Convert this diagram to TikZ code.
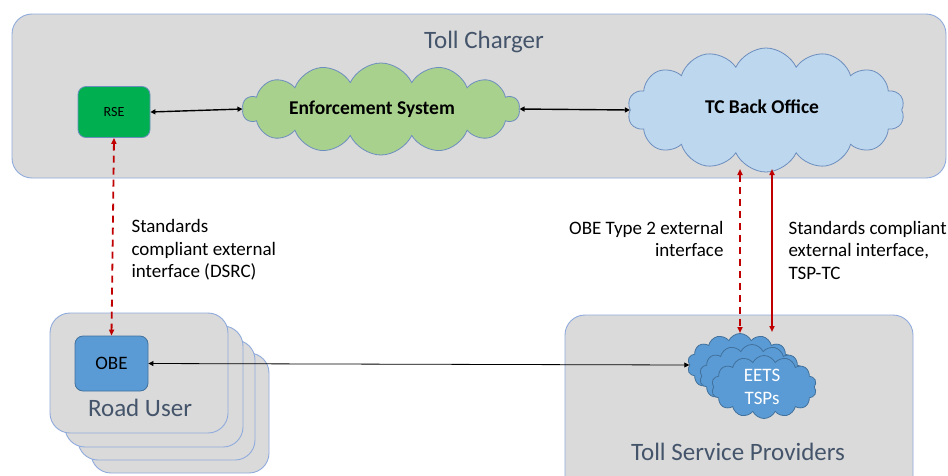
\documentclass[tikz,border=0pt]{standalone}
\usepackage{fontspec}
\setmainfont{Carlito}
\usetikzlibrary{shapes.symbols,arrows.meta,calc}
\definecolor{panel}{HTML}{DADADA}
\definecolor{panelborder}{HTML}{8FAADC}
\definecolor{titlecol}{HTML}{44546A}
\definecolor{rsegreen}{HTML}{00B050}
\definecolor{enfgreen}{HTML}{A9D18E}
\definecolor{tcblue}{HTML}{BDD7EE}
\definecolor{obeblue}{HTML}{5B9BD5}
\definecolor{cloudborder}{HTML}{41719C}
\definecolor{boxborder}{HTML}{6C8EBF}
\definecolor{arrowred}{HTML}{C00000}
\tikzset{
  panelbox/.style={draw=panelborder, fill=panel, line width=0.9pt, rounded corners=20pt},
  paneltitle/.style={text=titlecol, font=\fontsize{25}{28}\selectfont},
  cloudnode/.style={shape=cloud, cloud puffs=14, cloud puff arc=130, cloud ignores aspect, inner sep=0pt, line width=0.8pt, draw=boxborder},
  bigcloudtext/.style={font=\bfseries\fontsize{19.5}{22}\selectfont},
  label/.style={font=\fontsize{19}{22.5}\selectfont, text=black},
  blackarrow/.style={{Triangle[length=5pt,width=5pt]}-{Triangle[length=5pt,width=5pt]}, line width=1.4pt, black},
  thinarrow/.style={{Triangle[length=5pt,width=5pt]}-{Triangle[length=5pt,width=5pt]}, line width=0.8pt, black},
  redarrow/.style={{Triangle[length=6pt,width=5pt]}-{Triangle[length=6pt,width=5pt]}, line width=1.8pt, arrowred},
  reddash/.style={redarrow, dash pattern=on 7pt off 5pt},
}
\begin{document}
\begin{tikzpicture}[x=1pt,y=-1pt]
\clip (0,0) rectangle (948,475);
\fill[white] (0,0) rectangle (948,475);

% Toll Charger panel
\draw[panelbox] (12,14) rectangle (946,178);
\node[paneltitle] (tctitle) at (484,42) {Toll Charger};

% RSE
\node[draw=boxborder, fill=rsegreen, rounded corners=8pt, minimum width=72pt, minimum height=51pt, line width=0.8pt,
      font=\fontsize{14}{16}\selectfont] (rse) at (114,112) {RSE};

% Enforcement cloud
\node[cloudnode, fill=enfgreen, minimum width=277pt, minimum height=92pt] (enf) at (381,109) {};
\node[bigcloudtext] (enftext) at (372,109) {Enforcement System};

% TC Back Office cloud
\node[cloudnode, fill=tcblue, minimum width=277pt, minimum height=124pt] (tcbo) at (766,110) {};
\node[bigcloudtext] (tcbotext) at (762,107) {TC Back Office};

\draw[blackarrow] (rse.east) -- (enf.west);
\draw[blackarrow] (enf.east) -- (tcbo.west);

% Road User stack
\draw[panelbox] (91,353) rectangle (269,473);
\draw[panelbox] (78,340) rectangle (255,460);
\draw[panelbox] (65,326) rectangle (243,447);
\draw[panelbox] (50,313) rectangle (228,433);
\node[paneltitle] (rutitle) at (140,408) {Road User};
\node[draw=cloudborder, fill=obeblue, rounded corners=8pt, minimum width=73pt, minimum height=55pt, line width=0.8pt,
      font=\fontsize{19}{22}\selectfont] (obe) at (111.5,363.5) {OBE};

% Toll Service Providers
\draw[panelbox] (565,315) rectangle (913,500);
\node[paneltitle] (tsptitle) at (738,452) {Toll Service Providers};

\node[cloudnode, draw=cloudborder, fill=obeblue, minimum width=105pt, minimum height=63pt] (eets1) at (740,365) {};
\node[cloudnode, draw=cloudborder, fill=obeblue, minimum width=105pt, minimum height=63pt] (eets2) at (752,376) {};
\node[cloudnode, draw=cloudborder, fill=obeblue, minimum width=105pt, minimum height=63pt] (eets3) at (764,387) {};
\node[text=white, align=center, font=\fontsize{19}{23}\selectfont] (eetstext) at (762,387) {EETS\\TSPs};

\draw[thinarrow] (obe.east) -- (eets1.west);

% red interfaces
\draw[reddash] (rse.south) -- (obe.north);
\coordinate (tcA) at (740,169);
\coordinate (tcB) at (772,169);
\coordinate (eA) at (740,333);
\coordinate (eB) at (772,332);
\draw[reddash] (tcA) -- (eA);
\draw[redarrow] (tcB) -- (eB);

% labels
\node[label, align=left, anchor=west] (dsrc) at (128,250) {Standards\\compliant external\\interface (DSRC)};
\node[label, align=right, anchor=east] (type2) at (727,239) {OBE Type 2 external\\interface};
\node[label, align=left, anchor=west] (tsptc) at (785,250) {Standards compliant\\external interface,\\TSP-TC};
\end{tikzpicture}
\end{document}
